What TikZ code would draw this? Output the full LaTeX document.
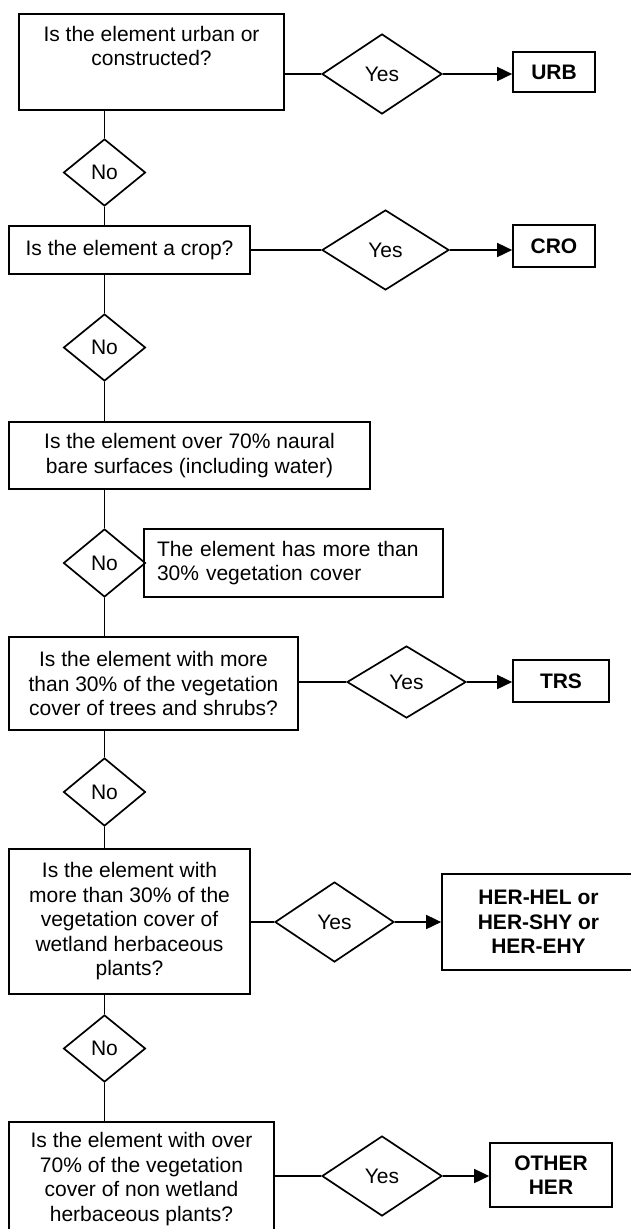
\documentclass[tikz,border=0pt]{standalone}
\usepackage{fontspec}
\setmainfont{Liberation Sans}
\usetikzlibrary{shapes.geometric,arrows.meta}
\begin{document}
\begin{tikzpicture}[x=1pt,y=-1pt,
  every node/.style={font=\fontsize{21pt}{24.5pt}\selectfont},
  ln/.style={line width=1.7pt},
  box/.style={draw, ln, rectangle, inner sep=0pt, align=center},
  dia/.style={draw, ln, diamond, inner sep=0pt},
  arr/.style={ln, -{Triangle[length=15pt,width=14pt]}}]
\useasboundingbox (0,0) rectangle (631,1229);
% row 1
\node[box, minimum width=265pt, minimum height=96pt] (b1) at (151.5,62) {};
\node[anchor=north, align=center, inner sep=0pt] (b1t) at (151.5,26) {Is the element urban or\\constructed?};
\node[dia, minimum width=120pt, minimum height=80pt] (y1) at (382,74) {Yes};
\node[box, minimum width=82pt, minimum height=40pt] (urb) at (554,72) {\textbf{URB}};
\node[dia, minimum width=82pt, minimum height=67pt] (n1) at (104.5,172.5) {No};
% row 2
\node[box, minimum width=241pt, minimum height=48pt] (b2) at (129.5,250) {Is the element a crop?};
\node[dia, minimum width=127pt, minimum height=80pt] (y2) at (385.5,250) {Yes};
\node[box, minimum width=82pt, minimum height=42pt] (cro) at (554,246) {\textbf{CRO}};
\node[dia, minimum width=82pt, minimum height=67pt] (n2) at (104.5,347.5) {No};
% row 3
\node[box, minimum width=361pt, minimum height=67pt] (b3) at (189.5,455.5) {Is the element over 70\% naural\\bare surfaces (including water)};
\node[dia, minimum width=82pt, minimum height=68pt] (n3) at (104.5,563) {No};
\node[box, minimum height=68pt, text width=273pt, inner xsep=13pt, align=left] (s3) at (293.5,563) {The element has more than\\30\% vegetation cover};
% row 4
\node[box, minimum width=289pt, minimum height=93pt] (b4) at (153.5,683.5) {Is the element with more\\than 30\% of the vegetation\\cover of trees and shrubs?};
\node[dia, minimum width=119pt, minimum height=72pt] (y4) at (406.5,682) {Yes};
\node[box, minimum width=96pt, minimum height=42pt] (trs) at (561,681) {\textbf{TRS}};
\node[dia, minimum width=82pt, minimum height=68pt] (n4) at (104.5,792) {No};
% row 5
\node[box, minimum width=241pt, minimum height=145pt] (b5) at (129.5,921.5) {Is the element with\\more than 30\% of the\\vegetation cover of\\wetland herbaceous\\plants?};
\node[dia, minimum width=119pt, minimum height=80pt] (y5) at (334.5,922) {Yes};
\node[box, minimum width=193pt, minimum height=96pt] (her) at (538.5,922) {\textbf{HER-HEL or}\\\textbf{HER-SHY or}\\\textbf{HER-EHY}};
\node[dia, minimum width=82pt, minimum height=67pt] (n5) at (104.5,1048.5) {No};
% row 6
\node[box, minimum width=265pt, minimum height=114pt] (b6) at (141.5,1179) {Is the element with over\\70\% of the vegetation\\cover of non wetland\\herbaceous plants?};
\node[dia, minimum width=120pt, minimum height=80pt] (y6) at (382,1176) {Yes};
\node[box, minimum width=122pt, minimum height=64pt] (oth) at (551,1175) {\textbf{OTHER}\\\textbf{HER}};
% connectors
\draw[ln] (y1.west -| b1.east) -- (y1.west);
\draw[arr] (y1.east) -- (y1.east -| urb.west);
\draw[ln] (n1.north |- b1.south) -- (n1.north);
\draw[ln] (n1.south) -- (n1.south |- b2.north);
\draw[ln] (y2.west -| b2.east) -- (y2.west);
\draw[arr] (y2.east) -- (y2.east -| cro.west);
\draw[ln] (n2.north |- b2.south) -- (n2.north);
\draw[ln] (n2.south) -- (n2.south |- b3.north);
\draw[ln] (n3.north |- b3.south) -- (n3.north);
\draw[ln] (n3.south) -- (n3.south |- b4.north);
\draw[ln] (y4.west -| b4.east) -- (y4.west);
\draw[arr] (y4.east) -- (y4.east -| trs.west);
\draw[ln] (n4.north |- b4.south) -- (n4.north);
\draw[ln] (n4.south) -- (n4.south |- b5.north);
\draw[ln] (y5.west -| b5.east) -- (y5.west);
\draw[arr] (y5.east) -- (y5.east -| her.west);
\draw[ln] (n5.north |- b5.south) -- (n5.north);
\draw[ln] (n5.south) -- (n5.south |- b6.north);
\draw[ln] (y6.west -| b6.east) -- (y6.west);
\draw[arr] (y6.east) -- (y6.east -| oth.west);
\end{tikzpicture}
\end{document}
